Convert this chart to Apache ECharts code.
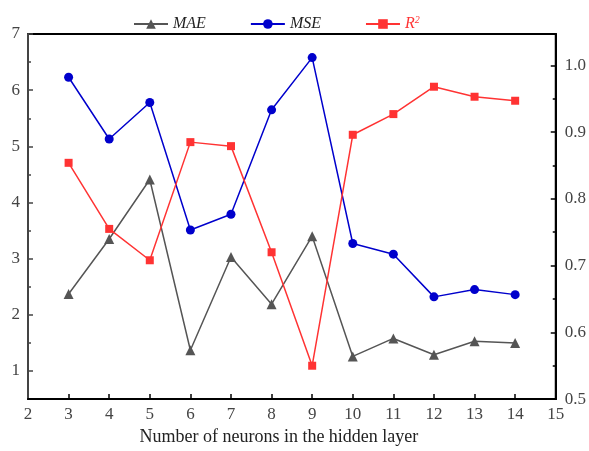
<!DOCTYPE html>
<html>
<head>
<meta charset="utf-8">
<script src="https://cdn.jsdelivr.net/npm/echarts@6/dist/echarts.min.js"></script>
<style>html,body{margin:0;padding:0;background:#fff}#c{width:589px;height:451px}</style>
</head>
<body>
<div id="c"></div>
<script>
var neurons = [3,4,5,6,7,8,9,10,11,12,13,14];
var maeValues = [2.37,3.35,4.41,1.37,3.03,2.19,3.40,1.26,1.58,1.29,1.53,1.50];
var mseValues = [6.23,5.13,5.78,3.51,3.79,5.65,6.58,3.27,3.08,2.32,2.45,2.36];
var r2Values  = [0.854,0.755,0.708,0.885,0.879,0.720,0.550,0.896,0.927,0.968,0.953,0.947];
var xTicks = [3,4,5,6,7,8,9,10,11,12,13,14];
var xLabels = [2,3,4,5,6,7,8,9,10,11,12,13,14,15];
var leftMajor = [1,2,3,4,5,6,7];
var leftMinor = [1.5,2.5,3.5,4.5,5.5,6.5];
var rightMajor = [0.5,0.6,0.7,0.8,0.9,1.0];
var rightMinor = [0.55,0.65,0.75,0.85,0.95];

function pairs(xs, ys){ return xs.map(function(x,i){ return [x, ys[i]]; }); }

var serif = 'Liberation Serif';
var labelStyle = {fontFamily: serif, fontSize: 17, color: '#444'};

var chart = echarts.init(document.getElementById('c'), null, {renderer:'canvas'});
chart.setOption({
  animation: false,
  backgroundColor: '#fff',
  grid: {left: 28, right: 26, top: 34, bottom: 45, show: true, borderColor: '#000', borderWidth: 2, containLabel: false},
  legend: {
    left: 128, top: 10, itemWidth: 34, itemHeight: 12, itemGap: 44,
    textStyle: {fontFamily: serif, fontSize: 16, fontStyle: 'italic', color: '#222',
      rich: {r: {fontFamily: serif, fontSize: 16, fontStyle: 'italic', color: '#ff3333'},
             s: {fontFamily: serif, fontSize: 10, color: '#ff3333', verticalAlign: 'top', padding: [0,0,8,0]}}},
    formatter: function(n){ return n === 'R2' ? '{r|R}{s|2}' : n; },
    data: ['MAE','MSE','R2']
  },
  xAxis: {
    type: 'value', min: 2, max: 15, interval: 1,
    name: 'Number of neurons in the hidden layer', nameLocation: 'middle', nameGap: 25,
    nameTextStyle: {fontFamily: serif, fontSize: 18, color: '#222', padding: [0, 26, 0, 0]},
    axisLine: {show: true, onZero: false, lineStyle: {color: '#000', width: 2}},
    axisTick: {show: true, inside: true, length: 5, lineStyle: {color: '#000', width: 1.5}, customValues: xTicks},
    axisLabel: Object.assign({margin: 7, customValues: xLabels}, labelStyle),
    splitLine: {show: false}
  },
  yAxis: [
    {
      type: 'value', min: 0.5, max: 7, position: 'left',
      axisLine: {show: true, lineStyle: {color: '#444', width: 2}},
      axisTick: {show: true, inside: true, length: 5, lineStyle: {color: '#444', width: 1.5}, customValues: leftMajor},
      axisLabel: Object.assign({margin: 8, customValues: leftMajor}, labelStyle),
      splitLine: {show: false}
    },
    {
      type: 'value', min: 0.5, max: 1.047, position: 'right',
      axisLine: {show: true, lineStyle: {color: '#000', width: 2}},
      axisTick: {show: true, inside: true, length: 5, lineStyle: {color: '#000', width: 1.5}, customValues: rightMajor},
      axisLabel: Object.assign({margin: 9, customValues: rightMajor, formatter: function(v){ return v.toFixed(1); }}, labelStyle),
      splitLine: {show: false}
    },
    {
      type: 'value', min: 0.5, max: 7, position: 'left',
      axisLine: {show: false},
      axisTick: {show: true, inside: true, length: 3, lineStyle: {color: '#444', width: 1.5}, customValues: leftMinor},
      axisLabel: {show: false},
      splitLine: {show: false}
    },
    {
      type: 'value', min: 0.5, max: 1.047, position: 'right',
      axisLine: {show: false},
      axisTick: {show: true, inside: true, length: 3, lineStyle: {color: '#000', width: 1.5}, customValues: rightMinor},
      axisLabel: {show: false},
      splitLine: {show: false}
    }
  ],
  series: [
    {name: 'MAE', type: 'line', yAxisIndex: 0, data: pairs(neurons, maeValues),
     symbol: 'triangle', symbolSize: 10, color: '#555555',
     lineStyle: {color: '#555555', width: 1.5}, itemStyle: {color: '#555555'}},
    {name: 'MSE', type: 'line', yAxisIndex: 0, data: pairs(neurons, mseValues),
     symbol: 'circle', symbolSize: 9, color: '#0000cc',
     lineStyle: {color: '#0000cc', width: 1.5}, itemStyle: {color: '#0000cc'}},
    {name: 'R2', type: 'line', yAxisIndex: 1, data: pairs(neurons, r2Values),
     symbol: 'rect', symbolSize: 8, color: '#ff3333',
     lineStyle: {color: '#ff3333', width: 1.5}, itemStyle: {color: '#ff3333'}}
  ]
});
</script>
</body>
</html>
